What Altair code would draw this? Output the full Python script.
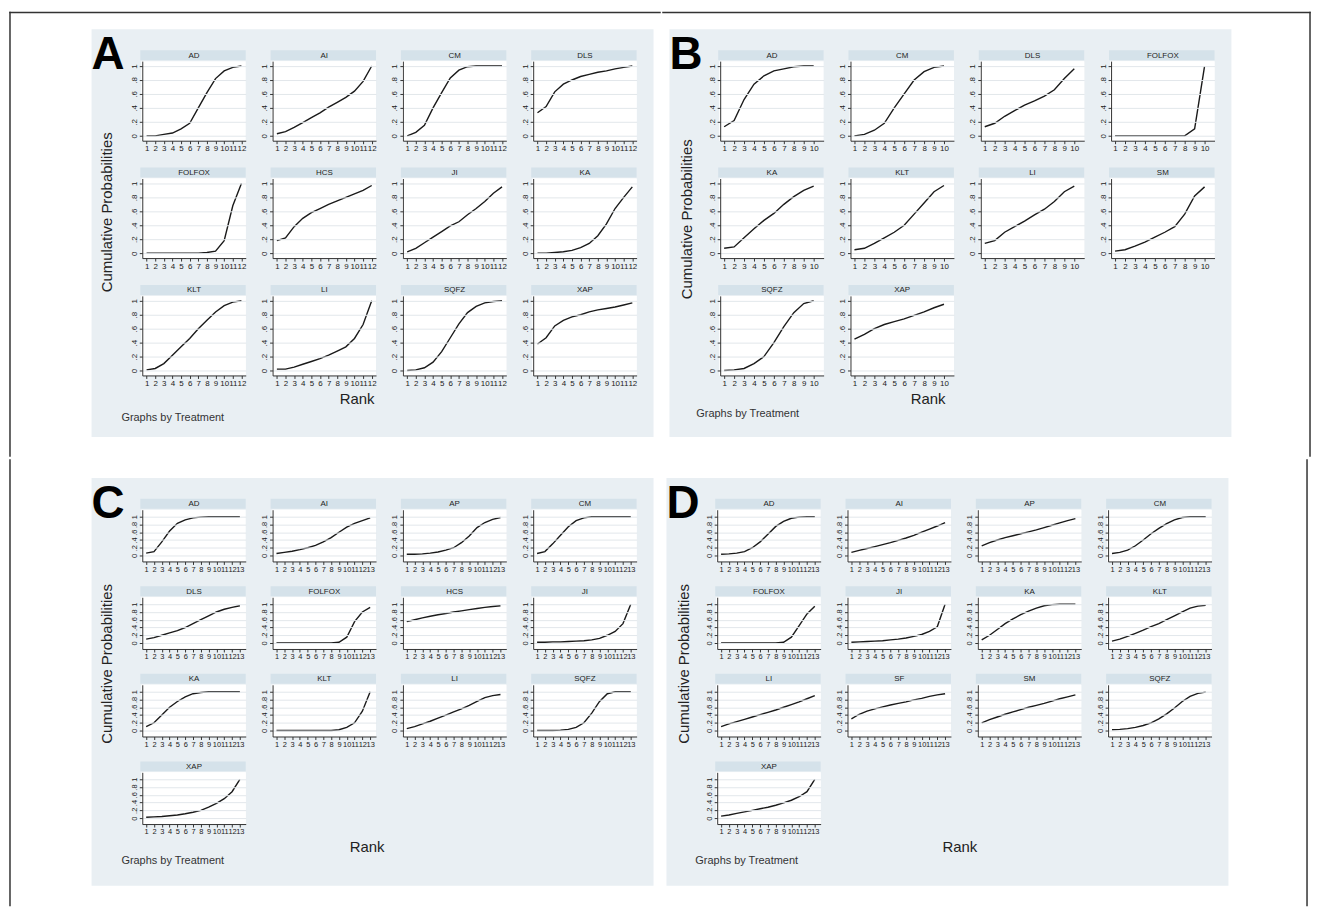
import altair as alt
import pandas as pd

FONT = "Liberation Sans"
PANEL_BG = "#e9eff3"
STRIP_BG = "#d5e2ea"
LINE_C = "#1a1a1a"
AX_C = "#333333"
GRID_C = "#e2e7eb"

# ---------------- data (cumulative rank probabilities) ----------------
A_TREAT = ["AD", "AI", "CM", "DLS", "FOLFOX", "HCS", "JI", "KA", "KLT", "LI", "SQFZ", "XAP"]
A_CUM = [
    [0.0, 0.0, 0.02, 0.04, 0.1, 0.18, 0.4, 0.62, 0.82, 0.93, 0.98, 1.0],
    [0.03, 0.06, 0.12, 0.19, 0.26, 0.33, 0.41, 0.48, 0.55, 0.64, 0.78, 1.0],
    [0.0, 0.05, 0.15, 0.4, 0.62, 0.83, 0.94, 0.99, 1.0, 1.0, 1.0, 1.0],
    [0.33, 0.42, 0.63, 0.74, 0.8, 0.85, 0.88, 0.91, 0.93, 0.96, 0.98, 1.0],
    [0.0, 0.0, 0.0, 0.0, 0.0, 0.0, 0.0, 0.01, 0.03, 0.18, 0.68, 1.0],
    [0.18, 0.22, 0.38, 0.5, 0.58, 0.64, 0.7, 0.75, 0.8, 0.85, 0.9, 0.97],
    [0.02, 0.07, 0.15, 0.23, 0.31, 0.39, 0.45, 0.55, 0.64, 0.74, 0.86, 0.95],
    [0.0, 0.0, 0.01, 0.02, 0.04, 0.08, 0.14, 0.25, 0.42, 0.64, 0.8, 0.95],
    [0.01, 0.03, 0.1, 0.22, 0.34, 0.46, 0.6, 0.72, 0.84, 0.93, 0.98, 1.0],
    [0.02, 0.02, 0.05, 0.09, 0.13, 0.17, 0.22, 0.28, 0.34, 0.46, 0.66, 1.0],
    [0.0, 0.01, 0.04, 0.12, 0.27, 0.47, 0.67, 0.83, 0.92, 0.97, 0.99, 1.0],
    [0.38, 0.47, 0.64, 0.72, 0.77, 0.8, 0.84, 0.87, 0.89, 0.91, 0.94, 0.97],
]

B_TREAT = ["AD", "CM", "DLS", "FOLFOX", "KA", "KLT", "LI", "SM", "SQFZ", "XAP"]
B_CUM = [
    [0.13, 0.22, 0.52, 0.74, 0.86, 0.93, 0.96, 0.99, 1.0, 1.0],
    [0.0, 0.02, 0.08, 0.18, 0.4, 0.6, 0.8, 0.92, 0.98, 1.0],
    [0.13, 0.18, 0.28, 0.36, 0.44, 0.5, 0.57, 0.66, 0.82, 0.96],
    [0.0, 0.0, 0.0, 0.0, 0.0, 0.0, 0.0, 0.0, 0.1, 1.0],
    [0.07, 0.09, 0.22, 0.35, 0.47, 0.57, 0.7, 0.81, 0.9, 0.96],
    [0.05, 0.07, 0.14, 0.22, 0.3, 0.4, 0.56, 0.72, 0.88, 0.97],
    [0.14, 0.18, 0.3, 0.38, 0.46, 0.55, 0.63, 0.74, 0.88, 0.96],
    [0.03, 0.05, 0.1, 0.16, 0.23, 0.3, 0.38, 0.56, 0.82, 0.95],
    [0.0, 0.01, 0.03, 0.1, 0.2, 0.4, 0.63, 0.83, 0.96, 1.0],
    [0.45, 0.52, 0.6, 0.66, 0.7, 0.74, 0.79, 0.84, 0.9, 0.95],
]

C_TREAT = ["AD", "AI", "AP", "CM", "DLS", "FOLFOX", "HCS", "JI", "KA", "KLT", "LI", "SQFZ", "XAP"]
C_CUM = [
    [0.06, 0.1, 0.35, 0.63, 0.83, 0.92, 0.97, 0.99, 1.0, 1.0, 1.0, 1.0, 1.0],
    [0.05, 0.08, 0.11, 0.15, 0.2, 0.26, 0.35, 0.46, 0.6, 0.73, 0.83, 0.9, 0.97],
    [0.03, 0.03, 0.04, 0.06, 0.09, 0.14, 0.2, 0.33, 0.5, 0.72, 0.85, 0.93, 0.98],
    [0.05, 0.1, 0.3, 0.52, 0.74, 0.9, 0.97, 1.0, 1.0, 1.0, 1.0, 1.0, 1.0],
    [0.1, 0.14, 0.2, 0.26, 0.32, 0.4, 0.5, 0.6, 0.7, 0.8, 0.87, 0.92, 0.96],
    [0.0, 0.0, 0.0, 0.0, 0.0, 0.0, 0.0, 0.0, 0.02, 0.15, 0.55, 0.8, 0.92],
    [0.55, 0.6, 0.65, 0.69, 0.73, 0.76, 0.8, 0.83, 0.86, 0.89, 0.92, 0.94, 0.96],
    [0.02, 0.02, 0.03, 0.03, 0.04, 0.05, 0.06, 0.08, 0.12, 0.2, 0.3, 0.5, 1.0],
    [0.1, 0.2, 0.4, 0.6, 0.75, 0.87, 0.95, 0.98, 1.0, 1.0, 1.0, 1.0, 1.0],
    [0.0, 0.0, 0.0, 0.0, 0.0, 0.0, 0.0, 0.0, 0.02, 0.08, 0.2, 0.5, 1.0],
    [0.05, 0.1, 0.17, 0.24, 0.32, 0.4, 0.48, 0.56, 0.65, 0.75, 0.85, 0.9, 0.93],
    [0.0, 0.0, 0.0, 0.01, 0.03, 0.08, 0.2, 0.45, 0.75, 0.95, 1.0, 1.0, 1.0],
    [0.02, 0.03, 0.04, 0.06, 0.08, 0.11, 0.15, 0.2, 0.28, 0.38, 0.5, 0.68, 1.0],
]

D_TREAT = ["AD", "AI", "AP", "CM", "FOLFOX", "JI", "KA", "KLT", "LI", "SF", "SM", "SQFZ", "XAP"]
D_CUM = [
    [0.03, 0.04, 0.06, 0.1, 0.2, 0.35, 0.55, 0.75, 0.88, 0.96, 0.99, 1.0, 1.0],
    [0.08, 0.13, 0.18, 0.23, 0.28, 0.33, 0.39, 0.45, 0.52, 0.6, 0.68, 0.76, 0.85],
    [0.25, 0.33, 0.4, 0.46, 0.51, 0.56, 0.61, 0.66, 0.72, 0.78, 0.84, 0.9, 0.95],
    [0.05, 0.08, 0.14, 0.25, 0.4, 0.56, 0.7, 0.82, 0.92, 0.98, 1.0, 1.0, 1.0],
    [0.0, 0.0, 0.0, 0.0, 0.0, 0.0, 0.0, 0.0, 0.02, 0.15, 0.45, 0.75, 0.95],
    [0.02, 0.03, 0.04, 0.05, 0.06, 0.08, 0.1, 0.13, 0.17, 0.22, 0.3, 0.42, 1.0],
    [0.08, 0.2, 0.35, 0.5, 0.62, 0.73, 0.82, 0.9, 0.96, 0.99, 1.0, 1.0, 1.0],
    [0.05, 0.1, 0.17, 0.25, 0.33, 0.42, 0.5, 0.6, 0.7, 0.8, 0.9, 0.95, 0.97],
    [0.1, 0.17, 0.23, 0.29, 0.35, 0.41, 0.47, 0.53, 0.6, 0.67, 0.74, 0.82, 0.9],
    [0.3, 0.42, 0.5, 0.56, 0.61, 0.66, 0.7, 0.74, 0.79, 0.83, 0.88, 0.92, 0.95],
    [0.2, 0.28, 0.35, 0.42, 0.48, 0.54, 0.6, 0.65, 0.7, 0.76, 0.82, 0.87, 0.92],
    [0.02, 0.03, 0.05, 0.08, 0.13, 0.2, 0.3, 0.43, 0.58, 0.75, 0.88, 0.96, 0.99],
    [0.05, 0.08, 0.12, 0.16, 0.2, 0.24, 0.28, 0.33, 0.39, 0.46, 0.55, 0.68, 1.0],
]

Y_TICKS = [0, 0.2, 0.4, 0.6, 0.8, 1]

# ---------------- layout constants (pixels) ----------------
CELL_W = 104
PANEL_W = 565
PANEL_H = 410
AX_OFF = 51          # panel left edge -> first y axis
TOP_OFF = 32         # panel top edge -> first plot area top
FRAME_L = -133       # frame left / right / top relative to first cell origin
FRAME_R = 593
FRAME_T = -49
HALF_GAP_X = 6.5
GAP_BELOW = 19       # frame segment below the top row of panels
GAP_ABOVE = 18       # frame segment above the bottom row of panels


def facet_grid(treats, cum, H, xdom, ydom, fs, row_spacing, letter, rank_xy,
               yt_xy, note_xy, frame_parts):
    K = len(cum[0])
    rows = []
    for t, vals in zip(treats, cum):
        for i, v in enumerate(vals):
            rows.append({"Treatment": t, "rank": i + 1, "prob": v})
    df = pd.DataFrame(rows)
    base = alt.Chart()
    first = "datum.rank == 1 && datum.Treatment == '%s'" % treats[0]
    one_per_cell = "datum.rank == 1"

    # panel background (drawn inside the first cell, behind everything else)
    bg = base.mark_rect(color=PANEL_BG).encode(
        x=alt.value(-AX_OFF), x2=alt.value(PANEL_W - AX_OFF),
        y=alt.value(-TOP_OFF), y2=alt.value(PANEL_H - TOP_OFF),
    ).transform_filter(first)
    plot_bg = base.mark_rect(color="white").encode(
        x=alt.value(-1), x2=alt.value(CELL_W), y=alt.value(0), y2=alt.value(H)
    ).transform_filter(one_per_cell)
    strip = base.mark_rect(color=STRIP_BG).encode(
        x=alt.value(-2), x2=alt.value(CELL_W), y=alt.value(-11), y2=alt.value(-1)
    ).transform_filter(one_per_cell)
    label = base.mark_text(font=FONT, fontSize=8, color="#222").encode(
        x=alt.value(CELL_W / 2), y=alt.value(-5.5), text="Treatment:N"
    ).transform_filter(one_per_cell)

    line = base.mark_line(color=LINE_C, strokeWidth=1.4).encode(
        x=alt.X(
            "rank:Q",
            scale=alt.Scale(domain=xdom, nice=False, zero=False),
            axis=alt.Axis(
                values=list(range(1, K + 1)), title=None, grid=False,
                labelOverlap=False, labelFlush=False, labelFont=FONT,
                labelFontSize=fs, labelColor="#222", labelPadding=1,
                tickSize=3, tickColor=AX_C, domainColor=AX_C, domainWidth=1,
                zindex=1,
            ),
        ),
        y=alt.Y(
            "prob:Q",
            scale=alt.Scale(domain=ydom, nice=False, zero=False),
            axis=alt.Axis(
                values=Y_TICKS, title=None, grid=True, gridColor=GRID_C,
                gridWidth=1, labelAngle=270, labelAlign="center",
                labelBaseline="bottom", labelOverlap=False, labelFlush=False,
                labelExpr="datum.value == 0 ? '0' : (datum.value == 1 ? '1' : '.' + round(datum.value * 10))",
                labelFont=FONT, labelFontSize=fs, labelColor="#222",
                labelPadding=1, tickSize=3, tickColor=AX_C,
                domainColor=AX_C, domainWidth=1, zindex=1,
            ),
        ),
    )

    let = base.mark_text(
        text=letter, font=FONT, fontSize=46, fontWeight="bold", color="black",
        align="left", baseline="alphabetic",
    ).encode(x=alt.value(-AX_OFF), y=alt.value(40 - TOP_OFF)).transform_filter(first)
    ytitle = base.mark_text(
        text="Cumulative Probabilities", font=FONT, fontSize=15, color="#222",
        angle=270, align="center", baseline="middle",
    ).encode(x=alt.value(yt_xy[0] - AX_OFF), y=alt.value(yt_xy[1] - TOP_OFF)).transform_filter(first)
    rank = base.mark_text(
        text="Rank", font=FONT, fontSize=15, color="#222", align="center", baseline="alphabetic",
    ).encode(x=alt.value(rank_xy[0] - AX_OFF), y=alt.value(rank_xy[1] - TOP_OFF)).transform_filter(first)
    note = base.mark_text(
        text="Graphs by Treatment", font=FONT, fontSize=11, color="#333", align="left", baseline="alphabetic",
    ).encode(x=alt.value(note_xy[0] - AX_OFF), y=alt.value(note_xy[1] - TOP_OFF)).transform_filter(first)

    layers = [bg, plot_bg, strip, label, line, let, ytitle, rank, note]
    for (x1, x2, y1, y2) in frame_parts:
        enc = {"x": alt.value(x1), "y": alt.value(y1)}
        if x2 is not None:
            enc["x2"] = alt.value(x2)
        if y2 is not None:
            enc["y2"] = alt.value(y2)
        layers.append(
            base.mark_rule(color="#333", strokeWidth=1.5, strokeCap="square")
            .encode(**enc).transform_filter(first)
        )

    layer = alt.layer(*layers, data=df).properties(width=CELL_W, height=H)
    return layer.facet(
        facet=alt.Facet(
            "Treatment:N", sort=treats, title=None,
            header=alt.Header(labels=False, labelExpr="''", labelFontSize=0,
                              labelColor="transparent", labelPadding=0),
        ),
        columns=4,
        spacing={"row": row_spacing, "column": 27},
        bounds="flush",
    ).resolve_axis(x="independent", y="independent")


AB_H = 80
AB_YDOM = [-0.07, 1.07]
CD_H = 52
CD_YDOM = [-0.154, 1.18]

BG_BOTTOM = PANEL_H - TOP_OFF
BG_RIGHT = PANEL_W - AX_OFF

frame_A = [
    (FRAME_L, BG_RIGHT + HALF_GAP_X, FRAME_T, None),           # top
    (FRAME_L, None, FRAME_T, BG_BOTTOM + GAP_BELOW),            # left
]
frame_B = [
    (-AX_OFF - HALF_GAP_X, FRAME_R, FRAME_T, None),            # top
    (FRAME_R, None, FRAME_T, BG_BOTTOM + GAP_BELOW),            # right
]
frame_C = [
    (FRAME_L, None, -TOP_OFF - GAP_ABOVE, BG_BOTTOM + 20),      # left
]
frame_D = [
    (FRAME_R, None, -TOP_OFF - GAP_ABOVE, BG_BOTTOM + 20),      # right
]

pA = facet_grid(A_TREAT, A_CUM, AB_H, [0.5, 12.5], AB_YDOM, 8, 38, "A",
                (267, 377), (16, 184), (30, 394), frame_A)
pB = facet_grid(B_TREAT, B_CUM, AB_H, [0.6, 11.0], AB_YDOM, 8, 38, "B",
                (260, 377), (18, 191), (27, 390), frame_B)
pC = facet_grid(C_TREAT, C_CUM, CD_H, [0.5, 13.75], CD_YDOM, 7.5, 36, "C",
                (277, 376), (16, 187), (30, 388), frame_C)
pD = facet_grid(D_TREAT, D_CUM, CD_H, [0.5, 13.75], CD_YDOM, 7.5, 36, "D",
                (295, 376), (18, 187), (29, 388), frame_D)

chart = alt.vconcat(
    alt.hconcat(pA, pB, spacing=0),
    alt.hconcat(pC, pD, spacing=13),
    spacing=0,
).properties(padding=0, background="white").configure_view(
    strokeWidth=0, fill="white"
)

chart.save("out.html", embed_options={"renderer": "svg", "actions": False})
